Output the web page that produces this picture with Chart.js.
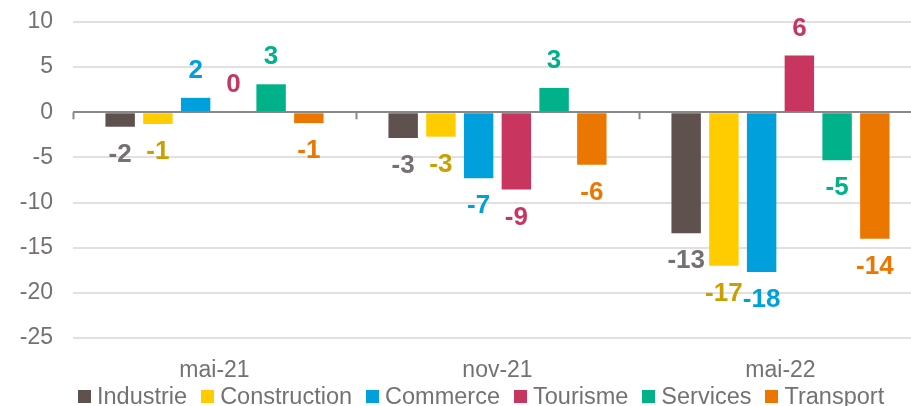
<!DOCTYPE html>
<html lang="fr">
<head>
    <meta charset="UTF-8">
    <title>Solde d'opinion par secteur</title>
    <script src="https://cdn.jsdelivr.net/npm/chart.js"></script>
    <style>
        html,body{margin:0;padding:0;background:#fff;overflow:hidden;width:911px;height:406px;}
        .chart-wrap{position:absolute;left:0;top:0;width:922px;height:406px;}
        #legend{position:absolute;left:78px;top:383px;height:26px;display:flex;align-items:center;font-family:'Liberation Sans',Arial,sans-serif;font-size:23.5px;color:#767171;white-space:nowrap;}
        #legend .item{display:flex;align-items:center;margin-right:14px;}
        #legend .box{width:13px;height:13px;margin-right:6px;}
    </style>
</head>
<body>
    <div class="chart-wrap"><canvas id="chart"></canvas></div>
    <div id="legend"></div>
    <script>
        const categories = ['mai-21', 'nov-21', 'mai-22'];
        const seriesNames = ['Industrie', 'Construction', 'Commerce', 'Tourisme', 'Services', 'Transport'];
        const industrie = [-1.6, -2.85, -13.4];
        const construction = [-1.3, -2.7, -17.0];
        const commerce = [1.6, -7.3, -17.7];
        const tourisme = [0, -8.55, 6.3];
        const services = [3.1, 2.7, -5.3];
        const transport = [-1.2, -5.8, -14.0];
        const yTicks = [10, 5, 0, -5, -10, -15, -20, -25];

        const barColors = ['#5F514D', '#FFCC00', '#00A0DC', '#C8365F', '#00B18A', '#EC7700'];
        const labelColors = ['#767171', '#C9A000', '#00A0DC', '#C8365F', '#00B18A', '#EC7700'];
        const allSeries = [industrie, construction, commerce, tourisme, services, transport];

        const font = "'Liberation Sans', Arial, sans-serif";

        // étiquettes de valeurs au bout des barres
        const valueLabels = {
            id: 'valueLabels',
            afterDatasetsDraw(chart) {
                const ctx = chart.ctx;
                ctx.save();
                ctx.font = 'bold 26px ' + font;
                ctx.textAlign = 'center';
                ctx.textBaseline = 'middle';
                chart.data.datasets.forEach((ds, i) => {
                    chart.getDatasetMeta(i).data.forEach((bar, j) => {
                        const v = ds.data[j];
                        ctx.fillStyle = labelColors[i];
                        const y = v >= 0 ? bar.y - 27 : bar.y + 28;
                        ctx.fillText(Math.round(v).toString(), bar.x, y);
                    });
                });
                ctx.restore();
            }
        };

        // petits traits de séparation sous l'axe zéro
        const zeroTicks = {
            id: 'zeroTicks',
            afterDraw(chart) {
                const x = chart.scales.x, y = chart.scales.y;
                const y0 = y.getPixelForValue(0);
                const step = (x.right - x.left) / categories.length;
                const ctx = chart.ctx;
                ctx.save();
                ctx.strokeStyle = '#898989';
                ctx.lineWidth = 2;
                for (let i = 0; i <= categories.length; i++) {
                    const px = Math.round(x.left + i * step) + 0.5;
                    ctx.beginPath();
                    ctx.moveTo(px, y0);
                    ctx.lineTo(px, y0 + 7);
                    ctx.stroke();
                }
                ctx.restore();
            }
        };

        new Chart(document.getElementById('chart'), {
            type: 'bar',
            data: {
                labels: categories,
                datasets: seriesNames.map((name, i) => ({
                    label: name,
                    data: allSeries[i],
                    backgroundColor: barColors[i],
                    borderWidth: 0,
                    categoryPercentage: 0.8,
                    barPercentage: 0.78
                }))
            },
            options: {
                responsive: true,
                maintainAspectRatio: false,
                animation: false,
                layout: { padding: { top: 22, right: 0, left: 0, bottom: 0 } },
                plugins: { legend: { display: false }, tooltip: { enabled: false } },
                scales: {
                    x: {
                        grid: { display: false },
                        border: { display: false },
                        ticks: { color: '#767171', font: { family: font, size: 23 }, padding: 11 },
                        afterFit: (s) => { s.height = 68; }
                    },
                    y: {
                        min: -25,
                        max: 10,
                        afterBuildTicks: (s) => { s.ticks = yTicks.map(v => ({ value: v })); },
                        grid: {
                            drawTicks: false,
                            lineWidth: 2,
                            color: (c) => c.tick && c.tick.value === 0 ? '#898989' : '#E6DFE0'
                        },
                        border: { display: false },
                        ticks: { color: '#767171', font: { family: font, size: 23 }, padding: 20 },
                        afterFit: (s) => { s.width = 73; s.paddingTop = 0; s.paddingBottom = 0; }
                    }
                }
            },
            plugins: [valueLabels, zeroTicks]
        });

        const legend = document.getElementById('legend');
        seriesNames.forEach((name, i) => {
            const item = document.createElement('div');
            item.className = 'item';
            item.innerHTML = `<span class="box" style="background:${barColors[i]}"></span><span>${name}</span>`;
            legend.appendChild(item);
        });
    </script>
</body>
</html>
